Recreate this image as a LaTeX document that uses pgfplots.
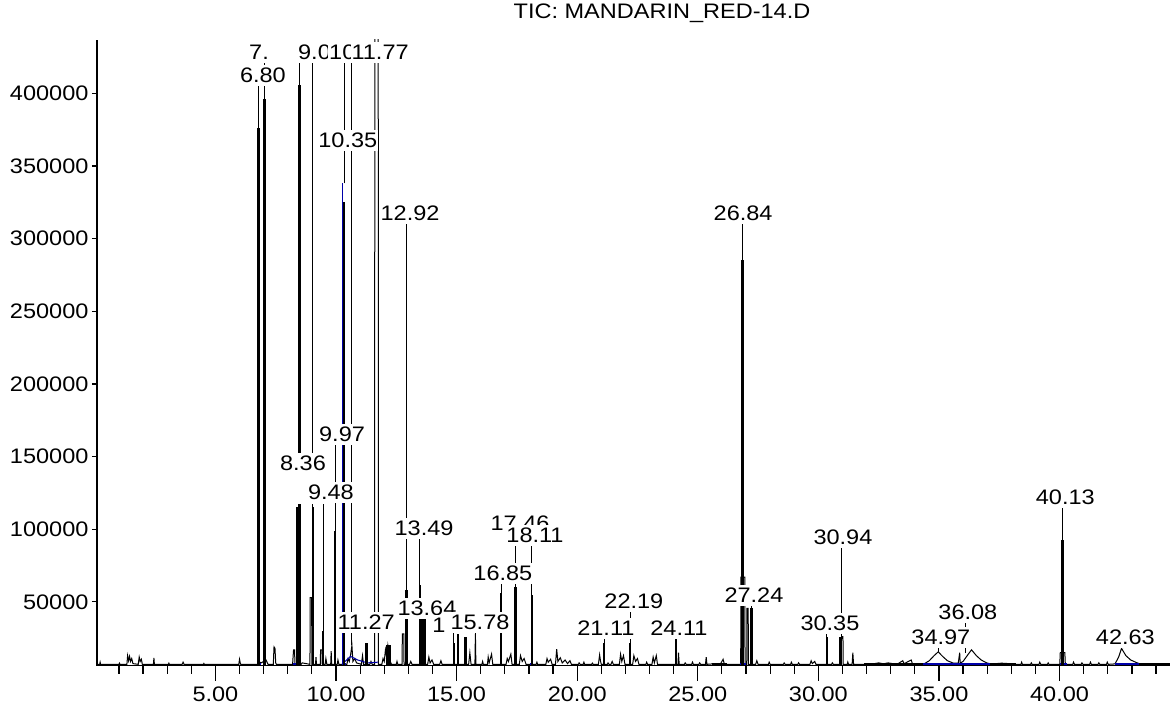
\documentclass[border=0pt]{standalone}
\usepackage{fontspec}
\setmainfont{Liberation Sans}[FakeStretch=1.12]
\usepackage{pgfplots}
\pgfplotsset{compat=1.18}
\definecolor{cblue}{RGB}{0,0,170}
\newcommand\lf{\fontsize{21bp}{24bp}\selectfont}
\tikzset{lbl/.style={fill=white, inner xsep=1bp, inner ysep=3bp, font=\lf, text height=15bp, text depth=0bp}}
\begin{document}
\begin{tikzpicture}
\path[use as bounding box] (-97bp,-38.5bp) rectangle (1073bp,665.5bp);
\pgfplotsset{chrom/.style={scale only axis, width=1073bp, height=625.5bp,
  xmin=0.09, xmax=44.58, ymin=6200, ymax=436700, scaled y ticks=false, scaled x ticks=false,
  tick align=outside,
  tick style={black, line width=1.2bp}, tick label style={font=\lf}}}
\begin{axis}[chrom, axis x line*=bottom, axis y line*=left, axis line style={-, line width=1.2bp}, xtick=\empty,
  ytick={50000,100000,150000,200000,250000,300000,350000,400000},
  yticklabels={50000,100000,150000,200000,250000,300000,350000,400000},
  major tick length=5bp, unbounded coords=jump]
% chromatogram trace (baseline, small peaks, outlined peaks)
\addplot[black, line width=1bp, mark=none] coordinates {
(0.09,7000)(0.20,7000)(0.22,8500)(0.24,7000)(1.00,7000)(1.02,7800)(1.04,7000)
(1.33,7000)(1.36,13000)(1.40,9500)(1.44,12500)(1.48,9000)(1.53,11000)(1.58,7500)
(1.80,7000)(1.84,12000)(1.88,9000)(1.93,10500)(1.97,7000)
(2.43,7000)(2.45,11500)(2.47,7000)(3.05,7000)(3.07,7800)(3.09,7000)
(3.62,7000)(3.66,8500)(3.70,7000)(4.50,7000)(4.52,7600)(4.54,7000)
(5.97,7000)(6.00,10500)(6.03,8000)(6.05,7000)
(6.74,7000)(6.78,9000)(6.90,8000)(7.10,10000)(7.18,7000)
(7.40,7000)(7.43,19000)(7.47,18000)(7.50,8000)(7.53,7000)
(8.20,7000)(8.24,17000)(8.28,17000)(8.30,7000)(8.55,7000)(8.60,8000)
(8.92,7000)(8.93,53000)(8.99,53000)(9.00,7000)
(9.15,7000)(9.17,12000)(9.19,7000)
(9.35,7000)(9.36,17000)(9.42,17000)(9.43,7000)
(9.55,7000)(9.58,11000)(9.62,7000)(9.78,7000)(9.80,16000)(9.82,7000)
(10.05,7000)(10.08,10000)(10.12,7000)
(10.45,7000)(10.50,11000)(10.55,9000)(10.60,13000)(10.66,20000)(10.70,9000)(10.78,11000)(10.85,8000)
(11.05,7000)(11.10,13000)(11.14,7000)(11.40,7000)(11.45,9000)(11.50,7000)
(11.60,7000)(11.61,450000)(11.75,450000)(11.76,7000)
(11.90,7000)(11.95,11000)(12.00,9000)(12.05,17000)(12.10,12000)(12.15,20000)(12.20,14000)(12.25,9000)(12.30,7000)
(12.50,7000)(12.53,9000)(12.56,7000)
(12.74,7000)(12.75,28000)(12.81,28000)(12.82,7000)
(13.05,7000)(13.10,9000)(13.15,7000)
(13.80,7000)(13.85,12000)(13.90,8000)(13.98,10000)(14.05,7000)
(14.30,7000)(14.35,9500)(14.40,7000)
(15.50,7000)(15.55,15000)(15.60,7000)(15.76,7000)(15.78,28000)(15.80,7000)
(16.05,7000)(16.08,9000)(16.11,7000)
(16.28,7000)(16.31,12000)(16.35,8000)(16.45,14000)(16.50,7000)
(17.05,7000)(17.10,11000)(17.15,9000)(17.25,14000)(17.30,7000)
(17.60,7000)(17.65,13000)(17.72,9000)(17.80,11000)(17.88,7000)
(18.30,7000)(18.33,8500)(18.36,7000)
(18.70,7000)(18.75,11000)(18.80,8500)(18.90,10500)(18.96,7000)
(19.10,7000)(19.15,17500)(19.20,9000)(19.30,11500)(19.38,8000)(19.50,10000)(19.60,7500)(19.70,9500)(19.76,7000)
(20.05,7000)(20.08,8000)(20.12,7000)(20.25,7000)(20.28,8500)(20.31,7000)
(20.60,7000)(20.63,7800)(20.66,7000)(20.88,7000)(20.93,13500)(20.97,9000)(21.00,7000)
(21.25,7000)(21.28,8000)(21.32,7000)(21.40,7000)(21.45,9000)(21.50,7000)
(21.75,7000)(21.80,14000)(21.85,9000)(21.92,13000)(21.98,7000)
(22.30,7000)(22.35,13000)(22.42,9000)(22.50,11000)(22.56,7000)
(22.85,7000)(22.88,8500)(22.92,7000)
(23.10,7000)(23.15,12000)(23.20,8000)(23.28,13000)(23.33,7000)
(24.18,7000)(24.20,15000)(24.23,7000)(24.45,7000)(24.48,8000)(24.52,7000)
(24.75,7000)(24.78,8500)(24.82,7000)(25.05,7000)(25.08,8000)(25.12,7000)
(25.32,7000)(25.35,12000)(25.38,7000)
(25.60,7300)(25.80,7500)(25.95,7500)(26.05,10500)(26.10,7300)(26.20,7000)
(26.78,7000)(26.79,67000)(26.95,67000)(26.96,7000)
(27.03,7000)(27.04,45600)(27.09,45600)(27.10,7000)
(27.40,7000)(27.45,9500)(27.50,7000)(27.93,7000)(27.96,8500)(28.00,7000)
(28.55,7000)(28.58,8000)(28.62,7000)(28.85,7000)(28.88,8500)(28.92,7000)
(29.15,7000)(29.18,8000)(29.22,7000)
(29.65,7000)(29.70,9500)(29.75,7500)(29.85,9000)(29.90,7000)
(30.55,7000)(30.58,8000)(30.62,7000)
(30.95,7000)(30.96,26000)(31.02,26000)(31.03,7000)
(31.20,7000)(31.22,8500)(31.25,7000)(31.40,7000)(31.43,15000)(31.46,7000)
(31.90,7000)(32.00,7400)(32.30,7400)(32.50,8000)(32.70,7400)(32.90,8000)(33.10,7400)(33.30,7400)(33.50,9500)(33.55,7400)(33.85,10000)(33.90,7400)(34.20,7400)
(34.40,7500)(34.60,9500)(34.80,13000)(34.97,15600)(35.15,12500)(35.35,9500)(35.60,7800)(35.80,7800)(35.86,15000)(35.88,7800)
(36.00,9000)(36.15,12500)(36.35,17000)(36.55,13000)(36.75,10000)(36.98,8000)(37.10,7500)
(37.30,7400)(37.60,7800)(38.00,7400)(38.20,7000)
(38.40,7000)(38.43,8500)(38.46,7000)(38.80,7000)(38.83,8000)(38.86,7000)
(39.15,7000)(39.18,8500)(39.22,7000)(39.50,7000)(39.53,8000)(39.56,7000)
(40.01,7000)(40.03,15000)(40.22,15000)(40.24,7000)
(40.55,7000)(40.58,8500)(40.62,7000)(40.90,7000)(40.93,8000)(40.97,7000)
(41.25,7000)(41.28,8500)(41.32,7000)(41.60,7000)(41.63,8000)(41.67,7000)
(41.95,7000)(41.98,8500)(42.02,7000)
(42.30,7300)(42.45,12000)(42.57,18000)(42.75,13000)(42.95,10000)(43.15,8500)(43.30,7500)(43.50,7300)(44.58,7300)
};
% flat stretches where the trace lies thick on the baseline
\addplot[black, line width=2.6bp, mark=none] coordinates {
(25.60,7000)(26.20,7000)(31.90,nan)(31.90,7000)(34.35,7000)(37.10,nan)(37.10,7000)(38.20,7000)(43.30,nan)(43.30,7000)(44.58,7000)};
% blue integration baselines
\addplot[ycomb, cblue, line width=1.5bp, mark=none] coordinates {(10.27,338000)};
\addplot[cblue, line width=1bp, mark=none] coordinates {(10.25,7000)(10.6,12500)(10.9,10000)(11.3,8000)(11.75,8500)};
\addplot[cblue, line width=2.2bp, mark=none] coordinates {
(6.74,7000)(6.88,7000)(8.22,nan)(8.22,7000)(8.36,7000)(10.25,nan)(10.25,7000)(10.40,7000)(13.45,nan)(13.45,7000)(13.70,7000)
(16.80,nan)(16.80,7000)(16.90,7000)(17.40,nan)(17.40,7000)(17.50,7000)(18.05,nan)(18.05,7000)(18.15,7000)
(21.05,nan)(21.05,7000)(21.15,7000)(22.15,nan)(22.15,7000)(22.25,7000)(24.05,nan)(24.05,7000)(24.15,7000)
(26.75,nan)(26.75,7000)(27.00,7000)(27.20,nan)(27.20,7000)(27.30,7000)(30.30,nan)(30.30,7000)(30.40,7000)
(30.88,nan)(30.88,7000)(31.00,7000)(34.35,nan)(34.35,7000)(37.10,7000)(40.00,nan)(40.00,7000)(40.30,7000)
(42.30,nan)(42.30,7000)(43.30,7000)};
% thick peaks
\addplot[ycomb, black, line width=3bp, mark=none] coordinates {
(6.80,376000)(7.04,396000)(8.47,406000)(11.27,21600)(15.35,26000)
(17.45,60000)(26.86,285000)(27.24,45600)(40.13,92300)};
\addplot[ycomb, black, line width=2.2bp, mark=none] coordinates {
(9.04,115000)(9.47,30000)(9.96,99000)(10.34,325000)(12.92,58000)(13.47,61400)(14.88,22000)(15.06,28000)
(16.85,56000)(18.11,54600)(21.11,21800)(22.19,21800)(24.11,24400)(30.35,26000)(30.92,26000)};
\addplot[ycomb, black, line width=5bp, mark=none] coordinates {(8.44,115000)(12.17,20000)};
\addplot[ycomb, black, line width=7bp, mark=none] coordinates {(13.57,42000)};
% leader lines from peak apex to label
\addplot[black, line width=0.9bp, mark=none] coordinates {
(6.80,376000)(6.80,412400)(7.04,nan)(7.04,396000)(7.04,428200)(8.47,nan)(8.47,406000)(8.47,428200)
(9.04,nan)(9.04,115000)(9.04,428200)(9.47,nan)(9.47,30000)(9.47,125400)(9.96,nan)(9.96,99000)(9.96,165300)
(10.36,nan)(10.36,338000)(10.36,428200)(10.65,nan)(10.65,20000)(10.65,428200)
(12.92,nan)(12.92,58000)(12.92,317400)(13.47,nan)(13.47,61400)(13.47,100600)(13.64,nan)(13.64,42000)(13.64,45500)
(14.88,nan)(14.88,22000)(14.88,33800)(15.78,nan)(15.78,28000)(15.78,35900)(16.85,nan)(16.85,56000)(16.85,69600)
(17.45,nan)(17.45,60000)(17.45,104000)(18.11,nan)(18.11,54600)(18.11,95800)(21.11,nan)(21.11,21800)(21.11,31800)
(22.19,nan)(22.19,21800)(22.19,50400)(24.11,nan)(24.11,24400)(24.11,31800)(26.86,nan)(26.86,285000)(26.86,317400)
(27.24,nan)(27.24,45600)(27.24,54500)(30.35,nan)(30.35,26000)(30.35,35200)(30.94,nan)(30.94,26000)(30.94,94400)
(34.97,nan)(34.97,15600)(34.97,25600)(36.08,nan)(36.08,15000)(36.08,42800)(40.13,nan)(40.13,92300)(40.13,121900)
(42.63,nan)(42.63,18000)(42.63,25600)};
% peak labels
\node[lbl, anchor=west] at (axis cs:6.35,428200) {7.};
\node[lbl] at (axis cs:6.97,412400) {6.80};
\node[lbl, anchor=west] at (axis cs:8.38,428200) {9.0};
\node[lbl, anchor=west] at (axis cs:9.67,428200) {10};
\node[lbl] at (axis cs:11.83,428200) {11.77};
\node[lbl] at (axis cs:10.49,367600) {10.35};
\node[lbl] at (axis cs:13.07,317400) {12.92};
\node[lbl] at (axis cs:26.88,317400) {26.84};
\node[lbl] at (axis cs:10.25,165300) {9.97};
\node[lbl, text depth=30bp, anchor=base] at (axis cs:8.63,140100) {8.36};
\node[lbl] at (axis cs:9.79,125400) {9.48};
\node[lbl] at (axis cs:13.65,100600) {13.49};
\node[lbl] at (axis cs:13.77,45500) {13.64};
\node[lbl] at (axis cs:11.25,35900) {11.27};
\node[lbl] at (axis cs:14.27,33800) {1};
\node[lbl] at (axis cs:15.97,35900) {15.78};
\node[lbl] at (axis cs:16.92,69600) {16.85};
\node[lbl] at (axis cs:17.63,104000) {17.46};
\node[lbl] at (axis cs:18.25,95800) {18.11};
\node[lbl] at (axis cs:22.35,50400) {22.19};
\node[lbl] at (axis cs:21.19,31800) {21.11};
\node[lbl] at (axis cs:24.22,31800) {24.11};
\node[lbl] at (axis cs:27.33,54500) {27.24};
\node[lbl] at (axis cs:31.02,94400) {30.94};
\node[lbl] at (axis cs:30.48,35200) {30.35};
\node[lbl] at (axis cs:36.20,42800) {36.08};
\node[lbl] at (axis cs:35.08,25600) {34.97};
\node[lbl] at (axis cs:40.24,121900) {40.13};
\node[lbl] at (axis cs:42.73,25600) {42.63};
\end{axis}
\begin{axis}[chrom, axis x line*=bottom, axis y line=none, axis line style={-, line width=1.2bp}, ytick=\empty,
  xtick={5,10,15,20,25,30,35,40},
  xticklabels={5.00,10.00,15.00,20.00,25.00,30.00,35.00,40.00},
  xticklabel style={yshift=-3bp},
  minor xtick={1,2,3,4,6,7,8,9,11,12,13,14,16,17,18,19,21,22,23,24,26,27,28,29,31,32,33,34,36,37,38,39,41,42,43,44},
  major tick length=15bp, minor tick length=8bp]
\end{axis}
\node[font=\lf] at (565bp,652.5bp) {TIC: MANDARIN\_RED-14.D};
\end{tikzpicture}
\end{document}
